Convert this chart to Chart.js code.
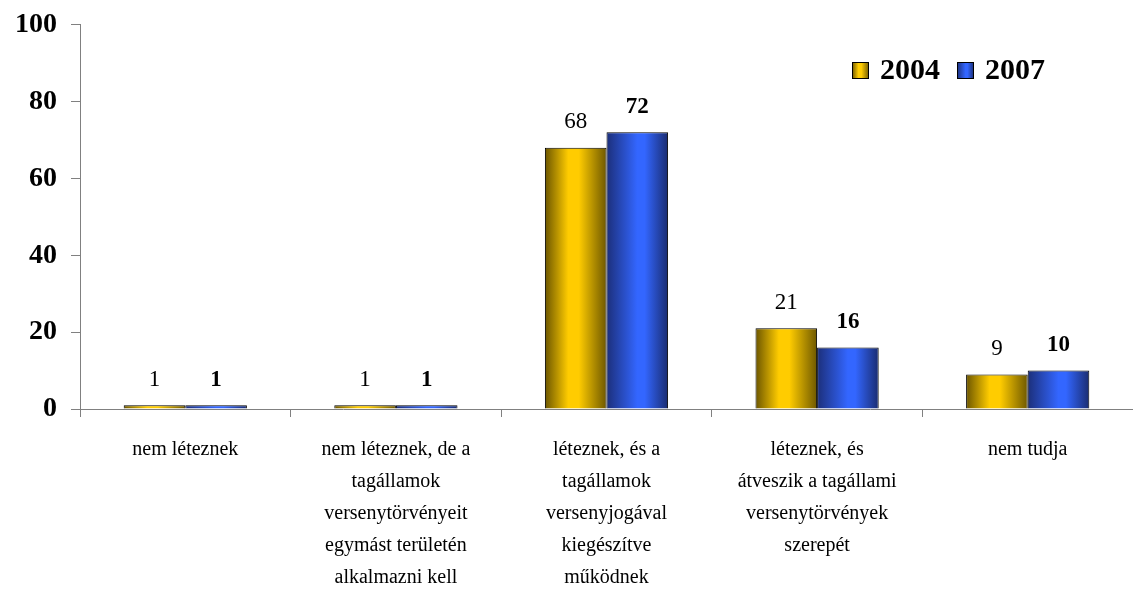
<!DOCTYPE html>
<html>
<head>
<meta charset="utf-8">
<script src="https://cdn.jsdelivr.net/npm/chart.js@4/dist/chart.umd.min.js"></script>
<style>
  html, body { margin: 0; padding: 0; background: #fff; }
  #wrap { width: 1133px; height: 593px; }
</style>
</head>
<body>
<div id="wrap"><canvas id="chart"></canvas></div>
<script>
const categories = [
  "nem léteznek",
  ["nem léteznek, de a", "tagállamok", "versenytörvényeit", "egymást területén", "alkalmazni kell"],
  ["léteznek, és a", "tagállamok", "versenyjogával", "kiegészítve", "működnek"],
  ["léteznek, és", "átveszik a tagállami", "versenytörvények", "szerepét"],
  "nem tudja"
];
const series2004 = [1, 1, 68, 21, 9];
const series2007 = [1, 1, 72, 16, 10];
const seriesNames = ["2004", "2007"];
const yTicks = [0, 20, 40, 60, 80, 100];

const FONT = "'Liberation Serif', 'Times New Roman', serif";

// colour stops for the shaded bars: [offset, colour]
const shades = [
  [[0, "#6b5500"], [0.38, "#ffcc00"], [0.55, "#ffcc00"], [1, "#6e5800"]],
  [[0, "#1c2f7a"], [0.5, "#3366ff"], [0.62, "#3366ff"], [1, "#1a2c70"]]
];

function barGradient(ctx, left, right, stops) {
  const g = ctx.createLinearGradient(left, 0, right, 0);
  stops.forEach(s => g.addColorStop(s[0], s[1]));
  return g;
}

// give every bar a horizontal shading based on its own position
const shadePlugin = {
  id: "shade",
  beforeDatasetsDraw(chart) {
    const ctx = chart.ctx;
    chart.data.datasets.forEach((ds, i) => {
      chart.getDatasetMeta(i).data.forEach(bar => {
        const left = bar.x - bar.width / 2;
        bar.options.backgroundColor = barGradient(ctx, left, left + bar.width, shades[i]);
      });
    });
  }
};

// value labels above bars: 2004 normal, 2007 bold
const valuePlugin = {
  id: "values",
  afterDatasetsDraw(chart) {
    const ctx = chart.ctx;
    ctx.save();
    ctx.fillStyle = "#000";
    ctx.textAlign = "center";
    ctx.textBaseline = "bottom";
    chart.data.datasets.forEach((ds, i) => {
      ctx.font = (i === 1 ? "bold " : "") + "23px " + FONT;
      chart.getDatasetMeta(i).data.forEach((bar, j) => {
        ctx.fillText(ds.data[j], bar.x, bar.y - 14);
      });
    });
    ctx.restore();
  }
};

// legend in the upper right of the plot
const legendPlugin = {
  id: "customLegend",
  afterDraw(chart) {
    const ctx = chart.ctx;
    let x = 852;
    const y = 70;
    ctx.save();
    ctx.font = "bold 30px " + FONT;
    ctx.textBaseline = "middle";
    seriesNames.forEach((name, i) => {
      ctx.fillStyle = barGradient(ctx, x, x + 17, shades[i]);
      ctx.fillRect(x, y - 8, 17, 17);
      ctx.strokeStyle = "#000";
      ctx.lineWidth = 1;
      ctx.strokeRect(x + 0.5, y - 7.5, 16, 16);
      ctx.fillStyle = "#000";
      ctx.fillText(name, x + 28, y + 1);
      x += 28 + ctx.measureText(name).width + 17;
    });
    ctx.restore();
  }
};

new Chart(document.getElementById("chart"), {
  type: "bar",
  data: {
    labels: categories,
    datasets: [
      { label: seriesNames[0], data: series2004, borderColor: "#000", borderWidth: 1, backgroundColor: () => "#ffcc00" },
      { label: seriesNames[1], data: series2007, borderColor: "#000", borderWidth: 1, backgroundColor: () => "#3366ff" }
    ]
  },
  options: {
    responsive: true,
    maintainAspectRatio: false,
    animation: false,
    layout: { padding: { top: 0, right: 0, left: 1, bottom: -18 } },
    datasets: { bar: { barPercentage: 1, categoryPercentage: 0.585 } },
    plugins: {
      legend: { display: false },
      tooltip: { enabled: false }
    },
    scales: {
      x: {
        offset: true,
        border: { color: "#808080", width: 1 },
        grid: { display: true, drawOnChartArea: false, drawTicks: true, tickLength: 8, color: "#808080", offset: true },
        ticks: {
          color: "#000",
          padding: 17,
          maxRotation: 0,
          autoSkip: false,
          font: { family: FONT, size: 20, lineHeight: 1.6 }
        }
      },
      y: {
        min: 0,
        max: 100,
        afterBuildTicks: axis => { axis.ticks = yTicks.map(v => ({ value: v })); },
        border: { color: "#808080", width: 1 },
        grid: { display: true, drawOnChartArea: false, drawTicks: true, tickLength: 9, color: "#808080" },
        ticks: {
          color: "#000",
          padding: 14,
          font: { family: FONT, size: 28, weight: "bold", lineHeight: 0.77 }
        }
      }
    }
  },
  plugins: [shadePlugin, valuePlugin, legendPlugin]
});
</script>
</body>
</html>
